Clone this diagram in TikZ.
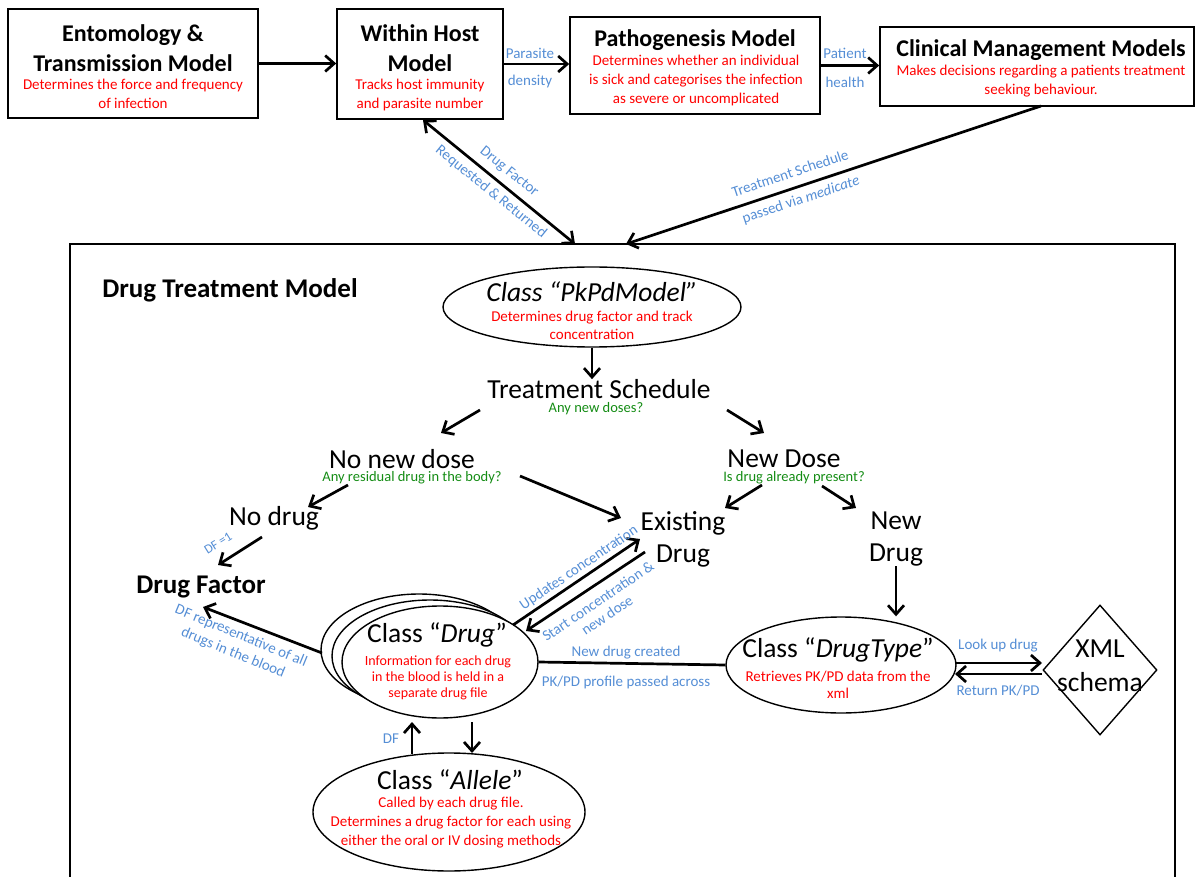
\documentclass[tikz,border=0pt]{standalone}
\usepackage{fontspec}
\setmainfont{Carlito}
\usetikzlibrary{arrows.meta,shapes.geometric}
\definecolor{lblue}{RGB}{85,142,213}
\definecolor{dgreen}{RGB}{20,140,20}
\definecolor{rred}{RGB}{255,0,0}
\newcommand{\fsz}[2]{\fontsize{#1}{#2}\selectfont}
\begin{document}
\begin{tikzpicture}[x=1pt,y=-1pt,
  box/.style={draw, line width=1.6pt, inner sep=0pt, fill=white},
  ell/.style={draw, ellipse, line width=1.4pt, inner sep=0pt, fill=white},
  ttl/.style={font=\bfseries\fsz{24}{30}, align=center, inner sep=0pt},
  rtxt/.style={text=rred, font=\fsz{15}{19}, align=center, inner sep=0pt},
  btxt/.style={text=lblue, font=\fsz{15}{18}, align=center, inner sep=0pt},
  gtxt/.style={text=dgreen, font=\fsz{14.5}{18}, align=center, inner sep=0pt},
  big/.style={font=\fsz{27.5}{32}, align=center, inner sep=0pt},
  arr/.style={line width=2.7pt, -{Straight Barb[length=9pt,width=16pt]}},
  darr/.style={line width=2.7pt, {Straight Barb[length=9pt,width=16pt]}-{Straight Barb[length=9pt,width=16pt]}},
  ln/.style={line width=2.7pt}
]
\useasboundingbox (0,0) rectangle (1197,877);

% ---------- top row ----------
\node[box, minimum width=250pt, minimum height=109pt] (ent) at (133,63.5) {};
\node[ttl] (entT) at (133,48) {Entomology \&\\Transmission Model};
\node[rtxt] (entR) at (133,93.5) {Determines the force and frequency\\of infection};

\node[box, minimum width=166pt, minimum height=110pt] (wh) at (420,64) {};
\node[ttl] (whT) at (420,48) {Within Host\\Model};
\node[rtxt] (whR) at (420,95) {Tracks host immunity\\and parasite number};

\node[box, minimum width=250pt, minimum height=97pt] (pg) at (695,65.5) {};
\node[ttl] (pgT) at (695,40) {Pathogenesis Model};
\node[rtxt] (pgR) at (696,81) {Determines whether an individual\\is sick and categorises the infection\\as severe or uncomplicated};

\node[box, minimum width=314pt, minimum height=79pt] (cm) at (1037,66.5) {};
\node[ttl] (cmT) at (1041,50) {Clinical Management Models};
\node[rtxt] (cmR) at (1041,81.5) {Makes decisions regarding a patients treatment\\seeking behaviour.};

\draw[arr] (ent.east) -- (ent.east -| wh.west);
\draw[arr] (wh.east) -- (wh.east -| pg.west);
\node[btxt] (l1) at (530,53) {Parasite};
\node[btxt] (l2) at (530,82) {density};
\draw[arr] (pg.east) -- (pg.east -| cm.west);
\node[btxt] (l3) at (845,53) {Patient};
\node[btxt] (l4) at (845,82) {health};

% ---------- drug treatment model container ----------
\node[draw, line width=1.6pt, inner sep=0pt, minimum width=1105pt, minimum height=652pt] (dtm) at (622.5,570) {};
\node[font=\bfseries\fsz{27}{30}, inner sep=0pt] (dtmT) at (230,290) {Drug Treatment Model};

\coordinate (whB) at (423,120);
\coordinate (dtA) at (575,244);
\coordinate (cmB) at (1041,106);
\coordinate (dtB) at (626,244);
\draw[darr] (whB) -- (dtA);
\node[btxt, rotate=-39] (l5) at (509,172) {Drug Factor};
\node[btxt, rotate=-39] (l6) at (491,192) {Requested \& Returned};
\draw[arr] (cmB) -- (dtB);
\node[btxt, rotate=18.3] (l7) at (790,173) {Treatment Schedule};
\node[btxt, rotate=18.3] (l8) at (801,200) {passed via \textit{medicate}};

% ---------- PkPd ----------
\node[ell, minimum width=298pt, minimum height=80pt] (pk) at (592,307) {};
\node[big, font=\itshape\fsz{27.5}{32}] (pkT) at (592,292) {Class “PkPdModel”};
\node[rtxt, font=\fsz{15}{18}] (pkR) at (592,325) {Determines drug factor and track\\concentration};

\node[big] (ts) at (599,389) {Treatment Schedule};
\node[gtxt] (tsG) at (596,409) {Any new doses?};
\draw[arr] (pk.south) -- (pk.south |- ts.north);

\node[big] (nnd) at (402,459) {No new dose};
\node[gtxt] (nndG) at (412,478) {Any residual drug in the body?};
\node[big] (nwd) at (784,459) {New Dose};
\node[gtxt] (nwdG) at (794,478) {Is drug already present?};

\coordinate (a1s) at (480,410); \coordinate (a1e) at (441,433);
\coordinate (a2s) at (727,410); \coordinate (a2e) at (764,433);
\draw[arr] (a1s) -- (a1e);
\draw[arr] (a2s) -- (a2e);

\node[big] (nod) at (274,518) {No drug};
\node[big] (exd) at (683,539) {Existing\\Drug};
\node[big] (nwdr) at (896,539) {New\\Drug};
\node[font=\bfseries\fsz{27}{32}, inner sep=0pt] (df) at (201,587) {Drug Factor};

\coordinate (b1s) at (348,485); \coordinate (b1e) at (308,507);
\coordinate (b2s) at (520,476); \coordinate (b2e) at (621,518);
\coordinate (b3s) at (762,485); \coordinate (b3e) at (725,508);
\coordinate (b4s) at (822,486); \coordinate (b4e) at (856,508);
\draw[arr] (b1s) -- (b1e);
\draw[arr] (b2s) -- (b2e);
\draw[arr] (b3s) -- (b3e);
\draw[arr] (b4s) -- (b4e);

\coordinate (c1s) at (262,537); \coordinate (c1e) at (218,565);
\draw[arr] (c1s) -- (c1e);
\node[btxt, font=\fsz{13}{16}, rotate=32] (l9) at (218,543) {DF =1};

% ---------- Drug stack ----------
\node[ell, minimum width=196pt, minimum height=112pt] (drB) at (419,650) {};
\node[ell, minimum width=196pt, minimum height=112pt] (drM) at (430,656) {};
\node[ell, minimum width=196pt, minimum height=112pt] (dr) at (440,662) {};
\node[big] (drT) at (437,635) {Class “\textit{Drug}”};
\node[rtxt, font=\fsz{14}{16}] (drR) at (438,678) {Information for each drug\\in the blood is held in a\\separate drug file};

\coordinate (d1s) at (322,653); \coordinate (d1e) at (203,607);
\draw[arr] (d1s) -- (d1e);
\node[btxt, rotate=-22.4] (l10) at (241,636) {DF representative of all};
\node[btxt, rotate=-22.4] (l11) at (233,653) {drugs in the blood};

\coordinate (e1s) at (513,625); \coordinate (e1e) at (640,539);
\coordinate (e2s) at (645,552); \coordinate (e2e) at (526,631);
\draw[arr] (e1s) -- (e1e);
\draw[arr] (e2s) -- (e2e);
\node[btxt, rotate=34] (l12) at (579,568) {Updates concentration};
\node[btxt, rotate=34] (l13) at (598,601) {Start concentration \&};
\node[btxt, rotate=34] (l14) at (607,615) {new dose};

% ---------- DrugType ----------
\node[ell, minimum width=230pt, minimum height=96pt] (dt) at (841,665) {};
\node[big] (dtT) at (838,650) {Class “\textit{DrugType}”};
\node[rtxt, font=\fsz{15}{17}] (dtR) at (838,684.5) {Retrieves PK/PD data from the\\xml};
\draw[ln] (dr.east) -- (dt.west);
\node[btxt] (l15) at (626,653) {New drug created};
\node[btxt] (l16) at (626,682) {PK/PD profile passed across};
\draw[arr] (nwdr.south) -- (nwdr.south |- dt.north);

% ---------- XML ----------
\node[draw, diamond, line width=1.4pt, inner sep=0pt, minimum width=114pt, minimum height=130pt] (xml) at (1100,670) {};
\node[big, font=\fsz{27.5}{34}] (xmlT) at (1100,666) {XML\\schema};
\coordinate (f1s) at (956,663); \coordinate (f1e) at (1042,663);
\coordinate (f2s) at (1042,674); \coordinate (f2e) at (955,674);
\draw[arr] (f1s) -- (f1e);
\draw[arr] (f2s) -- (f2e);
\node[btxt] (l17) at (998,646) {Look up drug};
\node[btxt] (l18) at (998,691) {Return PK/PD};

% ---------- Allele ----------
\node[ell, minimum width=272pt, minimum height=118pt] (al) at (449,812) {};
\node[big] (alT) at (450,780) {Class “\textit{Allele}”};
\node[rtxt] (alR) at (451,823) {Called by each drug file.\\Determines a drug factor for each using\\either the oral or IV dosing methods};
\coordinate (g1s) at (412,754); \coordinate (g1e) at (412,722);
\coordinate (g2s) at (472,722); \coordinate (g2e) at (472,753);
\draw[arr] (g1s) -- (g1e);
\draw[arr] (g2s) -- (g2e);
\node[btxt] (l19) at (391,739) {DF};
\end{tikzpicture}
\end{document}
